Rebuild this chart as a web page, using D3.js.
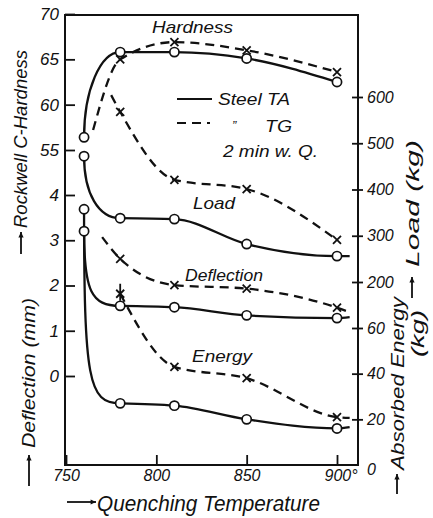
<!DOCTYPE html>
<html>
<head>
<meta charset="utf-8">
<script src="https://cdn.jsdelivr.net/npm/d3@7"></script>
<style>
  body { margin: 0; background: #fff; }
  text { font-family: "Liberation Sans", "DejaVu Sans", sans-serif; font-style: italic; fill: #111; }
</style>
</head>
<body>
<div class="chart"></div>
<script>

// quenching temperatures and readings
const hardTA_T = [760, 780, 810, 850, 900];
const hardTA   = [56.4, 65.8, 65.8, 65.1, 62.5];
const hardTG_T = [765, 780, 810, 850, 900];
const hardTG   = [57.2, 65.0, 66.9, 66.0, 63.6];

const loadTA_T = [760, 780, 810, 850, 900, 907];
const loadTA   = [472, 338, 336, 282, 256, 256];
const loadTG_T = [775, 780, 810, 850, 900];
const loadTG   = [604, 568, 421, 401, 291];

const deflTA_T = [760, 780, 810, 850, 900, 907];
const deflTA   = [3.20, 1.55, 1.52, 1.34, 1.28, 1.30];
const deflTG_T = [770, 780, 810, 850, 900, 907];
const deflTG   = [3.07, 2.59, 2.01, 1.93, 1.51, 1.41];

const enerTA_T = [760, 780, 810, 850, 900, 907];
const enerTA   = [112, 27, 26, 20, 16, 16.6];
const enerTG_T = [780, 810, 850, 900, 907];
const enerTG   = [75, 43, 38, 21, 20.6];

// which points carry a marker (2 = asterisk)
const markTA = [1, 1, 1, 1, 1, 0];
const markHardTG = [0, 1, 1, 1, 1];
const markLoadTG = [0, 1, 1, 1, 1];
const markDeflTG = [0, 1, 1, 1, 1, 0];
const markEnerTG = [2, 1, 1, 1, 0];

const xTicks = [750, 800, 850, 900];
const hardTicks = [55, 60, 65, 70];
const deflTicks = [0, 1, 2, 3, 4];
const loadTicks = [200, 300, 400, 500, 600];
const enerTicks = [0, 20, 40, 60];

const width = 433, height = 518;
const frameL = 65, frameR = 358, frameT = 15, frameB = 465;

const svg = d3.select(".chart").append("svg")
	.attr("width", width)
	.attr("height", height);

const x = d3.scaleLinear().domain([750, 900]).range([66, 337]);
const yHard = d3.scaleLinear().domain([55, 70]).range([150, 14]);
const yDefl = d3.scaleLinear().domain([0, 4]).range([376, 195]);
const yLoad = d3.scaleLinear().domain([200, 600]).range([282, 97]);
const yEner = d3.scaleLinear().domain([0, 60]).range([465, 328]);

// frame
svg.append("rect")
	.attr("x", frameL).attr("y", frameT)
	.attr("width", frameR - frameL).attr("height", frameB - frameT)
	.attr("fill", "none").attr("stroke", "#111").attr("stroke-width", 2);

function styleAxis(g) {
	g.select(".domain").remove();
	g.selectAll(".tick line").attr("stroke", "#111").attr("stroke-width", 1.8);
	g.selectAll(".tick text").attr("fill", "#111");
	g.attr("font-family", null);
}

svg.append("g")
	.attr("transform", `translate(${frameL},0)`)
	.call(d3.axisLeft(yHard).tickValues(hardTicks).tickSize(-10).tickPadding(6).tickFormat(d3.format("d")))
	.call(styleAxis)
	.attr("font-size", 17);

svg.append("g")
	.attr("transform", `translate(${frameL},0)`)
	.call(d3.axisLeft(yDefl).tickValues(deflTicks).tickSize(-10).tickPadding(6).tickFormat(d3.format("d")))
	.call(styleAxis)
	.attr("font-size", 17);

svg.append("g")
	.attr("transform", `translate(${frameR},0)`)
	.call(d3.axisRight(yLoad).tickValues(loadTicks).tickSize(5).tickPadding(4).tickFormat(d3.format("d")))
	.call(styleAxis)
	.attr("font-size", 16)
	.selectAll(".tick line").attr("x1", -6);

const enerAxis = svg.append("g")
	.attr("transform", `translate(${frameR},0)`)
	.call(d3.axisRight(yEner).tickValues(enerTicks).tickSize(5).tickPadding(4).tickFormat(d3.format("d")))
	.call(styleAxis)
	.attr("font-size", 16);
enerAxis.selectAll(".tick line").attr("x1", -6).filter(d => d === 0).remove();
enerAxis.selectAll(".tick text").filter(d => d === 0).attr("dy", "0.6em");

const xAxis = svg.append("g")
	.attr("transform", `translate(0,${frameB})`)
	.call(d3.axisBottom(x).tickValues(xTicks).tickSize(-10).tickPadding(5)
		.tickFormat(d => d === 900 ? "900°" : d))
	.call(styleAxis)
	.attr("font-size", 16);
xAxis.selectAll(".tick text").filter(d => d === 900)
	.attr("text-anchor", "start")
	.attr("x", -13);

// first segment bends like a hand-drawn elbow, the rest is monotone
function curveElbow(k) {
	return function(context) {
		let pts;
		return {
			areaStart() {}, areaEnd() {},
			lineStart() { pts = []; },
			point(px, py) { pts.push([+px, +py]); },
			lineEnd() {
				const [x0, y0] = pts[0], [x1, y1] = pts[1];
				context.moveTo(x0, y0);
				context.bezierCurveTo(x0, y0 + k * (y1 - y0), x1 - k * (x1 - x0), y1, x1, y1);
				const rest = d3.curveMonotoneX(context);
				rest.lineStart();
				pts.slice(1).forEach(p => rest.point(p[0], p[1]));
				rest.lineEnd();
			}
		};
	};
}

// curves
function drawSeries(temps, vals, yScale, marks, dashed, markType, elbow) {
	const pts = temps.map((t, i) => ({ t: t, v: vals[i], m: marks[i] }));
	const line = d3.line()
		.x(d => x(d.t))
		.y(d => yScale(d.v))
		.curve(elbow ? curveElbow(elbow) : d3.curveMonotoneX);
	svg.append("path")
		.datum(pts)
		.attr("d", line)
		.attr("fill", "none")
		.attr("stroke", "#111")
		.attr("stroke-width", 2.3)
		.attr("stroke-dasharray", dashed ? "9,6" : null);

	const shown = pts.filter(d => d.m);
	if (markType === "circle") {
		svg.selectAll(null).data(shown).enter()
			.append("circle")
				.attr("cx", d => x(d.t))
				.attr("cy", d => yScale(d.v))
				.attr("r", 4.6)
				.attr("fill", "#fff")
				.attr("stroke", "#111")
				.attr("stroke-width", 1.7);
	} else {
		svg.selectAll(null).data(shown).enter()
			.append("path")
				.attr("d", d => {
					const cx = x(d.t), cy = yScale(d.v), s = 4;
					let p = `M${cx - s},${cy - s}L${cx + s},${cy + s}M${cx + s},${cy - s}L${cx - s},${cy + s}`;
					if (d.m === 2) p += `M${cx},${cy - 10}L${cx},${cy + 7}`;
					return p;
				})
				.attr("stroke", "#111")
				.attr("stroke-width", 1.8);
	}
}

drawSeries(hardTG_T, hardTG, yHard, markHardTG, true, "x");
drawSeries(hardTA_T, hardTA, yHard, markTA, false, "circle", 0.55);
drawSeries(loadTG_T, loadTG, yLoad, markLoadTG, true, "x");
drawSeries(loadTA_T, loadTA, yLoad, markTA, false, "circle", 0.6);
drawSeries(deflTG_T, deflTG, yDefl, markDeflTG, true, "x");
drawSeries(enerTG_T, enerTG, yEner, markEnerTG, true, "x");
drawSeries(enerTA_T, enerTA, yEner, markTA, false, "circle", 0.88);
drawSeries(deflTA_T, deflTA, yDefl, markTA, false, "circle", 0.8);

// curve names
const names = [
	{ t: "Hardness", x: 152, y: 33, w: 81 },
	{ t: "Load", x: 193, y: 209, w: 42 },
	{ t: "Deflection", x: 185, y: 281, w: 78 },
	{ t: "Energy", x: 192, y: 362, w: 60 }
];
svg.selectAll(".name").data(names).enter()
	.append("text")
		.attr("class", "name")
		.attr("x", d => d.x).attr("y", d => d.y)
		.attr("font-size", 17)
		.attr("textLength", d => d.w)
		.attr("lengthAdjust", "spacingAndGlyphs")
		.text(d => d.t);

// legend
svg.append("line").attr("x1", 177).attr("x2", 212).attr("y1", 99).attr("y2", 99)
	.attr("stroke", "#111").attr("stroke-width", 2.2);
svg.append("line").attr("x1", 177).attr("x2", 210).attr("y1", 123).attr("y2", 123)
	.attr("stroke", "#111").attr("stroke-width", 2.2).attr("stroke-dasharray", "9,6");
svg.append("text").attr("x", 218).attr("y", 105).attr("font-size", 17)
	.attr("textLength", 72).attr("lengthAdjust", "spacingAndGlyphs").text("Steel TA");
svg.append("text").attr("x", 232).attr("y", 130).attr("font-size", 13).text("\u201D");
svg.append("text").attr("x", 265).attr("y", 132).attr("font-size", 17)
	.attr("textLength", 27).attr("lengthAdjust", "spacingAndGlyphs").text("TG");
svg.append("text").attr("x", 223).attr("y", 157).attr("font-size", 16)
	.attr("textLength", 95).attr("lengthAdjust", "spacingAndGlyphs").text("2 min w. Q.");

// axis titles
function arrow(x1, y1, x2, y2) {
	svg.append("line").attr("x1", x1).attr("y1", y1).attr("x2", x2).attr("y2", y2)
		.attr("stroke", "#111").attr("stroke-width", 1.8);
	const a = Math.atan2(y2 - y1, x2 - x1), s = 6;
	const p1 = [x2 - s * Math.cos(a - 0.45), y2 - s * Math.sin(a - 0.45)];
	const p2 = [x2 - s * Math.cos(a + 0.45), y2 - s * Math.sin(a + 0.45)];
	svg.append("path").attr("d", `M${x2},${y2}L${p1}L${p2}Z`).attr("fill", "#111");
}

function vText(t, x0, y0, len, size) {
	svg.append("text")
		.attr("transform", `translate(${x0},${y0}) rotate(-90)`)
		.attr("font-size", size)
		.attr("textLength", len)
		.attr("lengthAdjust", "spacingAndGlyphs")
		.text(t);
}

vText("Rockwell C-Hardness", 27, 228, 178, 18);
arrow(21, 254, 21, 232);
vText("Deflection (mm)", 35, 448, 150, 18);
arrow(29, 486, 29, 455);
vText("Load (kg)", 419, 267, 127, 18);
arrow(412, 298, 412, 277);
vText("Absorbed Energy", 404, 470, 173, 18);
vText("(kg)", 424, 357, 47, 18);
arrow(397, 494, 397, 474);

svg.append("text").attr("x", 97).attr("y", 511).attr("font-size", 22)
	.attr("textLength", 223).attr("lengthAdjust", "spacingAndGlyphs")
	.text("Quenching Temperature");
arrow(67, 502, 96, 502);

</script>
</body>
</html>
